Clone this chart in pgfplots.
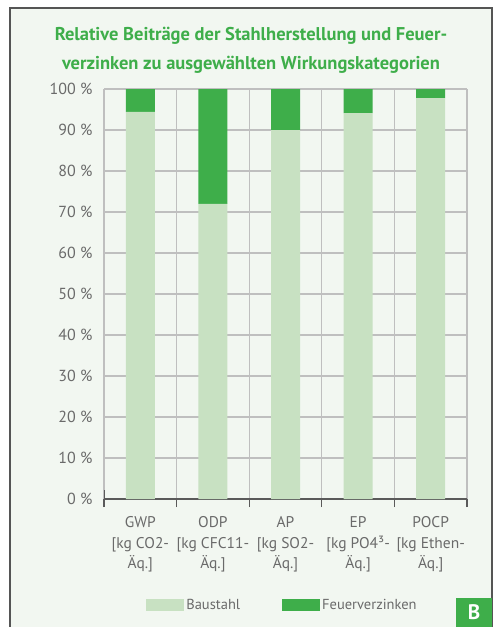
\documentclass[border=0pt]{standalone}
\usepackage{pgfplots}
\pgfplotsset{compat=1.18}
\usepackage{fontspec}
\setmainfont{PT Sans}
\definecolor{bg}{HTML}{F2F7F1}
\definecolor{frame}{HTML}{555555}
\definecolor{lgreen}{HTML}{C8E1C2}
\definecolor{dgreen}{HTML}{3EAE4A}
\definecolor{txt}{HTML}{6A6A6A}
\definecolor{grid}{HTML}{5A5A5A}
\begin{document}
\begin{tikzpicture}
\useasboundingbox (0pt,0pt) rectangle (495pt,-627pt);
\fill[bg] (10pt,-8pt) rectangle (492pt,-627pt);
\draw[frame, line width=1.5pt] (10pt,-627pt) -- (10pt,-8pt) -- (492pt,-8pt) -- (492pt,-627pt);
\node[dgreen, font=\bfseries\fontsize{18.5}{29}\selectfont, align=center] at (251pt,-50pt)
  {Relative Beiträge der Stahlherstellung und Feuer-\\verzinken zu ausgewählten Wirkungskategorien};
\fill[dgreen] (456pt,-598pt) rectangle (492pt,-627pt);
\node[white, font=\bfseries\fontsize{21}{21}\selectfont] at (474pt,-612.5pt) {B};
\begin{axis}[
  at={(104pt,-499pt)}, anchor=south west,
  scale only axis, width=363pt, height=410pt,
  xmin=-0.5, xmax=4.5, ymin=0, ymax=100,
  ybar stacked, bar width=29pt,
  axis x line*=bottom, axis y line*=left,
  y axis line style={draw=none},
  x axis line style={grid, line width=1.2pt},
  xtick={-0.5,0.5,1.5,2.5,3.5,4.5},
  xticklabels={},
  major tick length=8pt, tick align=outside,
  major x tick style={draw=grid, line width=1.2pt},
  extra x ticks={0,1,2,3,4},
  extra x tick labels={{GWP\\{[kg CO2-}\\Äq.]},{ODP\\{[kg CFC11-}\\Äq.]},{AP\\{[kg SO2-}\\Äq.]},{EP\\{[kg PO4³-}\\Äq.]},{POCP\\{[kg Ethen-}\\Äq.]}},
  extra x tick style={major tick length=0pt, grid=none,
    xticklabel style={align=center, font=\fontsize{15.5}{20.5}\selectfont, text=txt, yshift=-14pt}},
  ytick={0,10,...,100},
  yticklabels={0 \%,10 \%,20 \%,30 \%,40 \%,50 \%,60 \%,70 \%,80 \%,90 \%,100 \%},
  yticklabel style={font=\fontsize{16}{18}\selectfont, text=txt, xshift=0pt},
  major y tick style={draw=none},
  ymajorgrids, major grid style={grid, line width=1.2pt},
  /pgf/number format/assume math mode=true,
  legend columns=2,
  legend style={at={(0.4917,-0.2585)}, anchor=center, draw=none, fill=none,
    font=\fontsize{14.5}{16}\selectfont, text=txt,
    /tikz/every even column/.append style={column sep=40pt}},
  legend image code/.code={\fill[#1] (0pt,-6pt) rectangle (38pt,6pt);},
]
\addplot[fill=lgreen, draw=none] coordinates {(0,94.4) (1,72) (2,90) (3,94.1) (4,97.8)};
\addplot[fill=dgreen, draw=none] coordinates {(0,5.6) (1,28) (2,10) (3,5.9) (4,2.2)};
\legend{Baustahl,Feuerverzinken}
\draw[grid, line width=1.2pt] (axis cs:-0.5,-2.2) -- (axis cs:-0.5,2.2);
\end{axis}
\end{tikzpicture}
\end{document}
